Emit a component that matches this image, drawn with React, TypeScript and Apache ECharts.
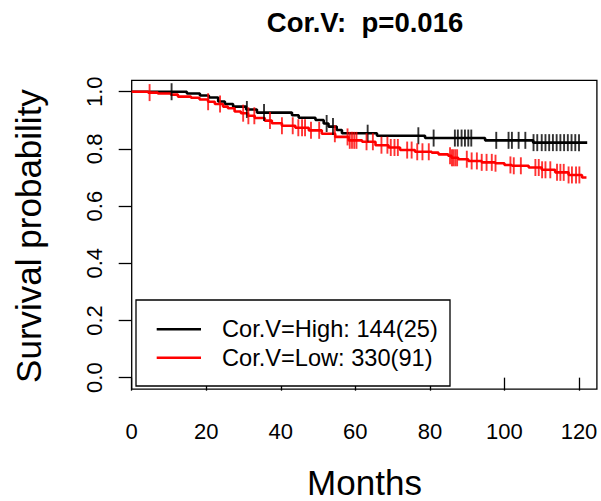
import React, { useEffect, useRef } from "react";
import * as echarts from "echarts";

const titleText = "Cor.V:  p=0.016";
const xTitle = "Months";
const yTitle = "Survival probability";
const xTicks = [0, 20, 40, 60, 80, 100, 120];
const yTicks = [0, 0.2, 0.4, 0.6, 0.8, 1.0];

const highLabel = "Cor.V=High: 144(25)";
const highTimes = [0, 14.8, 18.3, 20.7, 23.2, 25, 27.2, 30.7, 33.6, 43, 44.8, 49.3, 51.5, 52.8, 55, 56.4, 65.8, 78.7, 94.8, 107.7, 122.2];
const highSurv = [1, 0.994, 0.987, 0.98, 0.966, 0.957, 0.948, 0.938, 0.927, 0.918, 0.909, 0.901, 0.889, 0.878, 0.866, 0.855, 0.846, 0.838, 0.83, 0.822, 0.822];
const highCensor = [10.7, 30.9, 35.5, 52.3, 54, 63.3, 76.9, 81, 86.7, 87.5, 88.5, 89.4, 90.3, 91.1, 97.8, 101.1, 102, 103.8, 105.6, 107.8, 108.8, 110, 111, 112, 113, 114, 115, 116, 117, 118, 119, 120];

const lowLabel = "Cor.V=Low: 330(91)";
const lowTimes = [0, 4.4, 7, 10.5, 12.4, 15.9, 18.2, 20.5, 22.3, 24.5, 25.8, 27.6, 29.3, 31.2, 33, 35.7, 37.6, 40.3, 43.9, 47.5, 51, 54.6, 58.2, 61.8, 65.4, 68.9, 72, 76, 80.5, 82.3, 84.9, 85.8, 87.6, 90.3, 93.9, 97.5, 100, 102, 106.5, 110, 113.6, 117.2, 120.8, 122];
const lowSurv = [1, 0.997, 0.994, 0.99, 0.983, 0.979, 0.973, 0.965, 0.957, 0.948, 0.942, 0.931, 0.925, 0.916, 0.908, 0.899, 0.89, 0.881, 0.874, 0.865, 0.853, 0.842, 0.83, 0.825, 0.813, 0.805, 0.796, 0.79, 0.787, 0.781, 0.776, 0.769, 0.764, 0.758, 0.753, 0.75, 0.744, 0.741, 0.735, 0.727, 0.718, 0.709, 0.7, 0.7];
const lowCensor = [4.8, 20.5, 23.7, 29.9, 31.3, 32.9, 37.1, 40.3, 43.2, 44.7, 45.7, 46.5, 48.1, 50.3, 54.5, 57.9, 58.5, 59.1, 59.7, 60.3, 63, 64.7, 67, 68.6, 69.5, 70.5, 71.4, 73.9, 75.1, 76.6, 78, 79.7, 85.4, 85.9, 86.3, 86.8, 87.3, 89.9, 91.2, 92.6, 93.9, 95.2, 96.6, 97.6, 101.6, 102.5, 104.4, 108.3, 109.2, 110.1, 111, 112.3, 114.1, 115, 115.9, 117.2, 118.1, 119.2, 120.1];

const FONT = "'Liberation Sans', Arial, Helvetica, sans-serif";
const TICK_FS = 22;

function survAt(times: number[], surv: number[], t: number): number {
  let s = surv[0];
  for (let i = 0; i < times.length; i++) {
    if (times[i] <= t) s = surv[i];
  }
  return s;
}

export default function App() {
  const ref = useRef<HTMLDivElement>(null);
  useEffect(() => {
    document.body.style.margin = "0";
    const chart = echarts.init(ref.current!, null, { renderer: "svg" });
    const lineSeries = (name: string, times: number[], surv: number[], color: string) => ({
      name,
      type: "line",
      step: "end",
      showSymbol: false,
      symbol: "none",
      data: times.map((t, i) => [t, surv[i]]),
      lineStyle: { color, width: 2.6 },
      itemStyle: { color },
      z: 2,
    });
    const censorSeries = (name: string, cens: number[], times: number[], surv: number[], color: string) => ({
      name,
      type: "scatter",
      symbol: "rect",
      symbolSize: [1.9, 17],
      data: cens.map((t) => [t, survAt(times, surv, t)]),
      itemStyle: { color },
      z: 3,
    });
    const tickRich = { t: { fontSize: TICK_FS, fontFamily: FONT, color: "#000" } };
    chart.setOption({
      animation: false,
      backgroundColor: "#fff",
      textStyle: { fontFamily: FONT },
      grid: {
        left: 131.7,
        right: 4.1,
        top: 80.3,
        bottom: 111.9,
        show: true,
        borderColor: "#000",
        borderWidth: 1.3,
        backgroundColor: "transparent",
        containLabel: false,
        outerBoundsMode: "none",
      },
      xAxis: {
        type: "value",
        min: 0,
        max: 124.8,
        interval: 20,
        splitLine: { show: false },
        axisLine: { show: false },
        axisTick: { show: true, length: 13, lineStyle: { color: "#000", width: 1.3 }, customValues: xTicks },
        axisLabel: {
          color: "#000",
          fontSize: TICK_FS,
          fontFamily: FONT,
          margin: 31.5,
          customValues: xTicks,
          formatter: (v: number) => `{t|${v}}`,
          rich: tickRich,
        },
      },
      yAxis: {
        type: "value",
        min: -0.04,
        max: 1.04,
        interval: 0.2,
        splitLine: { show: false },
        axisLine: { show: false },
        axisTick: { show: true, length: 13, lineStyle: { color: "#000", width: 1.3 }, customValues: yTicks },
        axisLabel: {
          color: "#000",
          fontSize: TICK_FS,
          fontFamily: FONT,
          rotate: 90,
          margin: 26.5,
          customValues: yTicks,
          formatter: (v: number) => `{t|${v.toFixed(1)}}`,
          rich: tickRich,
        },
      },
      series: [
        lineSeries("High", highTimes, highSurv, "#000000"),
        lineSeries("Low", lowTimes, lowSurv, "#ff0000"),
        censorSeries("HighCensor", highCensor, highTimes, highSurv, "#000000"),
        censorSeries("LowCensor", lowCensor, lowTimes, lowSurv, "#ff0000"),
      ],
      graphic: [
        {
          type: "text",
          x: 365,
          y: 22,
          style: { text: titleText, font: `bold 27.5px ${FONT}`, fill: "#000", textAlign: "center", textVerticalAlign: "middle" },
        },
        {
          type: "text",
          x: 364.5,
          y: 482,
          style: { text: xTitle, font: `35px ${FONT}`, fill: "#000", textAlign: "center", textVerticalAlign: "middle" },
        },
        {
          type: "text",
          x: 28,
          y: 236,
          rotation: Math.PI / 2,
          style: { text: yTitle, font: `35px ${FONT}`, fill: "#000", textAlign: "center", textVerticalAlign: "middle" },
        },
        {
          type: "rect",
          shape: { x: 136, y: 300, width: 314, height: 86 },
          style: { fill: "#fff", stroke: "#000", lineWidth: 1.3 },
          z: 10,
        },
        {
          type: "line",
          shape: { x1: 156.7, y1: 329.3, x2: 201, y2: 329.3 },
          style: { stroke: "#000", lineWidth: 2.6 },
          z: 11,
        },
        {
          type: "line",
          shape: { x1: 156.7, y1: 357.7, x2: 201, y2: 357.7 },
          style: { stroke: "#ff0000", lineWidth: 2.6 },
          z: 11,
        },
        {
          type: "text",
          x: 222,
          y: 329.3,
          z: 11,
          style: { text: highLabel, font: `23.6px ${FONT}`, fill: "#000", textAlign: "left", textVerticalAlign: "middle" },
        },
        {
          type: "text",
          x: 222,
          y: 357.7,
          z: 11,
          style: { text: lowLabel, font: `23.6px ${FONT}`, fill: "#000", textAlign: "left", textVerticalAlign: "middle" },
        },
      ],
    });
    return () => chart.dispose();
  }, []);
  return <div ref={ref} style={{ position: "fixed", left: 0, top: 0, width: 601, height: 501 }} />;
}
